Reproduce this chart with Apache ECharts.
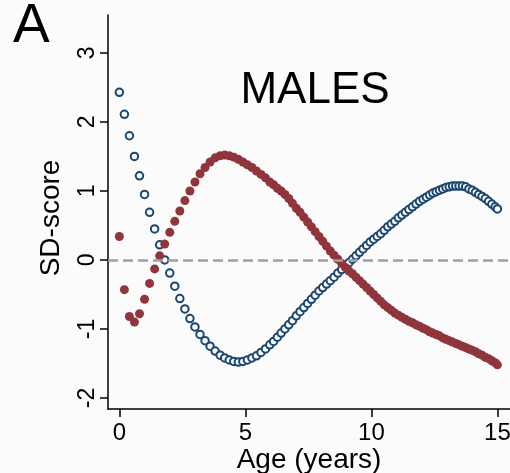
<!DOCTYPE html>
<html>
<head>
<meta charset="utf-8">
<script src="https://cdn.jsdelivr.net/npm/echarts@6/dist/echarts.min.js"></script>
<style>
html,body{margin:0;padding:0;background:#fbfbfb;}
#chart{width:510px;height:473px;}
</style>
</head>
<body>
<div id="chart"></div>
<script>
// Age (years) at which each point is plotted
const ages = [0,0.2,0.4,0.6,0.8,1.0,1.2,1.4,1.6,1.8,2.0,2.2,2.4,2.6,2.8,3.0,3.2,3.4,3.6,3.8,4.0,
  4.18,4.36,4.54,4.72,4.9,5.08,5.26,5.44,5.62,5.8,5.97,
  6.12,6.27,6.42,6.57,6.72,6.87,7.02,7.17,7.32,7.47,7.62,7.77,7.92,8.07,8.22,8.37,8.52,8.67,8.82,8.97,
  9.11,9.25,9.39,9.53,9.67,9.81,9.95,10.09,10.23,10.37,10.51,10.65,10.79,10.93,11.07,11.21,11.35,11.49,11.63,11.77,11.91,12.05,
  12.18,12.31,12.44,12.57,12.70,12.83,12.96,13.09,13.22,13.35,13.48,13.61,13.74,13.87,14.0,14.13,14.26,14.39,14.52,14.65,14.78,14.91,15.0];

// Hollow navy circles
const blueSD = [2.43,2.11,1.80,1.50,1.22,0.95,0.69,0.45,0.22,0.0,-0.19,-0.38,-0.56,-0.71,-0.85,-0.97,-1.08,-1.17,-1.25,-1.32,-1.38,
  -1.42,-1.45,-1.47,-1.48,-1.47,-1.45,-1.42,-1.39,-1.34,-1.29,-1.23,
  -1.18,-1.12,-1.06,-1.00,-0.94,-0.88,-0.81,-0.75,-0.69,-0.63,-0.57,-0.51,-0.45,-0.40,-0.35,-0.30,-0.25,-0.19,-0.14,-0.09,
  -0.04,0.01,0.06,0.11,0.16,0.21,0.26,0.30,0.34,0.38,0.43,0.48,0.52,0.56,0.61,0.65,0.69,0.73,0.77,0.81,0.85,0.88,
  0.91,0.94,0.97,0.99,1.01,1.03,1.05,1.06,1.07,1.07,1.07,1.07,1.06,1.03,1.01,0.98,0.95,0.92,0.89,0.85,0.81,0.77,0.74];

// Filled maroon dots
const redSD = [0.34,-0.43,-0.82,-0.90,-0.78,-0.57,-0.34,-0.13,0.06,0.23,0.40,0.56,0.71,0.86,1.0,1.13,1.25,1.34,1.42,1.48,1.51,
  1.52,1.51,1.49,1.46,1.42,1.38,1.34,1.29,1.24,1.19,1.13,
  1.09,1.04,1.00,0.95,0.89,0.82,0.75,0.69,0.62,0.55,0.48,0.41,0.34,0.27,0.20,0.13,0.07,0.01,-0.05,-0.11,
  -0.16,-0.20,-0.25,-0.30,-0.35,-0.40,-0.45,-0.50,-0.55,-0.60,-0.65,-0.69,-0.73,-0.77,-0.80,-0.83,-0.86,-0.89,-0.91,-0.94,-0.96,-0.99,
  -1.01,-1.04,-1.06,-1.08,-1.10,-1.13,-1.15,-1.17,-1.19,-1.21,-1.23,-1.25,-1.27,-1.29,-1.31,-1.33,-1.36,-1.38,-1.41,-1.43,-1.46,-1.49,-1.52];

const xTicks = [0,5,10,15];
const yTicks = [-2,-1,0,1,2,3];

const FONT = '"Liberation Sans", Arial, Helvetica, sans-serif';
const chart = echarts.init(document.getElementById('chart'), null, {renderer:'canvas'});
const zip = (xs, ys) => xs.map((x,i)=>[x, ys[i]]);

chart.setOption({
  backgroundColor:'#fbfbfb',
  animation:false,
  title:[
    {text:'A', left:8, top:-6, textStyle:{fontFamily:FONT, fontSize:55, fontWeight:'normal', color:'#000'}},
    {text:'MALES', left:310, top:64, textAlign:'center', textStyle:{fontFamily:FONT, fontSize:44, fontWeight:'normal', color:'#000'}}
  ],
  grid:{left:108, right:0, top:15, bottom:64, containLabel:false, outerBoundsMode:'none'},
  xAxis:{
    type:'value', min:-0.45, max:15.5, interval:5,
    name:'Age (years)', nameLocation:'middle', nameGap:37, nameMoveOverlap:false,
    nameTextStyle:{fontFamily:FONT, fontSize:28, color:'#000'},
    axisLine:{show:true, onZero:false, lineStyle:{color:'#000', width:1.5}},
    axisTick:{show:true, length:8, lineStyle:{color:'#000', width:1.5}, customValues:xTicks},
    axisLabel:{fontFamily:FONT, fontSize:24, color:'#000', margin:12, customValues:xTicks, showMinLabel:true},
    splitLine:{show:false}
  },
  yAxis:{
    type:'value', min:-2.16, max:3.55,
    name:'SD-score', nameLocation:'middle', nameGap:43, nameRotate:90, nameMoveOverlap:false,
    nameTextStyle:{fontFamily:FONT, fontSize:28, color:'#000', padding:[0,12,0,0]},
    axisLine:{show:true, onZero:false, lineStyle:{color:'#000', width:1.5}},
    axisTick:{show:true, length:8, lineStyle:{color:'#000', width:1.5}, customValues:yTicks},
    axisLabel:{fontFamily:FONT, fontSize:23, color:'#000', rotate:90, margin:9, customValues:yTicks},
    splitLine:{show:false}
  },
  series:[
    {
      type:'scatter', name:'blue', data:zip(ages, blueSD),
      symbol:'circle', symbolSize:7.5,
      itemStyle:{color:'#fbfbfb', borderColor:'#1a476f', borderWidth:2, opacity:1},
      z:3,
      markLine:{
        silent:true, symbol:'none', label:{show:false},
        lineStyle:{color:'#a0a0a0', width:2.5, type:[10,5], opacity:1},
        data:[{yAxis:0}]
      }
    },
    {
      type:'scatter', name:'red', data:zip(ages, redSD),
      symbol:'circle', symbolSize:9,
      itemStyle:{color:'#90353b', opacity:1},
      z:4
    }
  ]
});
</script>
</body>
</html>
